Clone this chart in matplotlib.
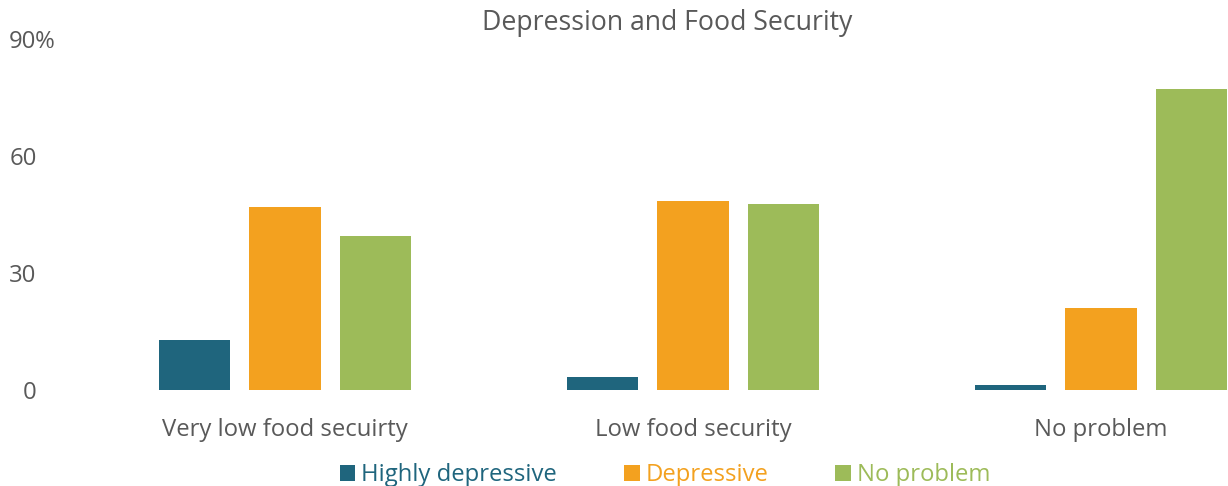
import numpy as np
import matplotlib
matplotlib.use("Agg")
import matplotlib.pyplot as plt
from matplotlib.patches import Patch

plt.rcParams['font.family'] = ['Open Sans', 'DejaVu Sans']

# Share of respondents (%) by food security level
categories = ['Very low food secuirty', 'Low food security', 'No problem']
series_names = ['Highly depressive', 'Depressive', 'No problem']
highly_depressive = [12.8, 3.3, 1.3]
depressive = [46.9, 48.4, 21.0]
no_problem = [39.4, 47.7, 77.2]
yticks = [0, 30, 60, 90]
ytick_labels = ['0', '30', '60', '90']

colors = ['#1f657d', '#f3a11f', '#9dbb59']
text_grey = '#595959'
fs = 17.2

fig = plt.figure(figsize=(12.28, 4.86), dpi=100)
ax = fig.add_axes([81 / 1228, 96 / 486, 1 - 81 / 1228, 351 / 486])

x = np.arange(len(categories))
width = 0.176
step = 0.222
for i, (vals, col) in enumerate(zip([highly_depressive, depressive, no_problem], colors)):
    ax.bar(x + (i - 1) * step, vals, width=width, color=col, linewidth=0)

ax.set_xlim(-0.5, (1228 - 285) / 408)
ax.set_ylim(0, 90)
for s in ax.spines.values():
    s.set_visible(False)

ax.set_xticks(x)
ax.set_xticklabels(categories, fontsize=fs, color=text_grey)
ax.tick_params(axis='x', length=0, pad=20)

ax.set_yticks(yticks)
ax.set_yticklabels(ytick_labels, fontsize=fs, color=text_grey)
ax.tick_params(axis='y', length=0, pad=32)
# percent sign after the top tick value
ax.annotate('%', xy=(0, 90), xycoords=('axes fraction', 'data'),
            xytext=(-33.5, 0), textcoords='offset points',
            ha='left', va='center_baseline', fontsize=fs, color=text_grey)

fig.text(667 / 1228, 1 - 23 / 486, 'Depression and Food Security',
         ha='center', va='center', fontsize=19.2, color=text_grey)

handles = [Patch(facecolor=c, edgecolor='none') for c in colors]
leg = fig.legend(handles, series_names, loc='center',
                 bbox_to_anchor=(665 / 1228, 1 - 475 / 486), ncol=3,
                 frameon=False, fontsize=fs, labelcolor=colors,
                 handlelength=0.65, handleheight=0.65, handletextpad=0.25,
                 columnspacing=2.8)

fig.savefig('out.png', dpi=100)
